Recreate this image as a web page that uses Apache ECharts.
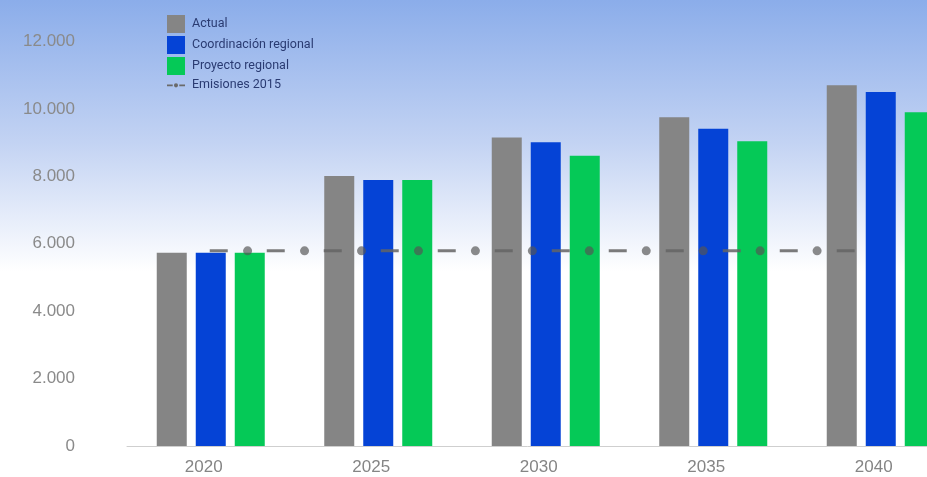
<!DOCTYPE html>
<html>
<head>
<meta charset="utf-8">
<script src="https://cdn.jsdelivr.net/npm/echarts@6/dist/echarts.min.js"></script>
<style>
html,body{margin:0;padding:0;background:#fff;}
#chart{width:927px;height:477px;}
</style>
</head>
<body>
<div id="chart"></div>
<script>
const categories = ['2020', '2025', '2030', '2035', '2040'];
const actual = [5730, 8010, 9150, 9750, 10700];
const coordinacion = [5730, 7890, 9010, 9410, 10500];
const proyecto = [5730, 7890, 8610, 9040, 9900];
const emisionesValue = 5790;
const emisionesLineYears = [2019.97, 2039.22];
const emisionesDotYears = [2021.1, 2022.8, 2024.5, 2026.2, 2027.9, 2029.6, 2031.3, 2033.0, 2034.7, 2036.4, 2038.1];
const yTicks = [0, 2000, 4000, 6000, 8000, 10000, 12000];

const chart = echarts.init(document.getElementById('chart'));
const fmt = v => v === 0 ? '0' : String(v).replace(/\B(?=(\d{3})+(?!\d))/g, '.');
const lineIcon = 'path://M0,0 M18,18 M-2,8 L5,8 L5,10 L-2,10 Z M6.5,9 A2.5,2.5 0 1 1 11.5,9 A2.5,2.5 0 1 1 6.5,9 Z M13,8 L20,8 L20,10 L13,10 Z';

chart.setOption({
  animation: false,
  backgroundColor: {
    type: 'linear', x: 0, y: 0, x2: 0, y2: 1,
    colorStops: [
      {offset: 0, color: '#8badea'},
      {offset: 0.3, color: '#c3d3f3'},
      {offset: 0.57, color: '#ffffff'},
      {offset: 1, color: '#ffffff'}
    ]
  },
  legend: {
    orient: 'vertical',
    left: 162, top: 10,
    itemWidth: 18, itemHeight: 18,
    itemGap: 3,
    textStyle: {fontFamily: 'Roboto', fontSize: 12.5, color: '#2a3b72', padding: [0, 0, 0, 2]},
    data: [
      {name: 'Actual', icon: 'rect'},
      {name: 'Coordinación regional', icon: 'rect'},
      {name: 'Proyecto regional', icon: 'rect'},
      {name: 'Emisiones 2015', icon: lineIcon, itemStyle: {color: '#6a6a6a'}}
    ]
  },
  grid: {left: 127, width: 837.5, top: 41.5, bottom: 31, containLabel: false, outerBoundsMode: 'none'},
  xAxis: [{
    type: 'category',
    data: categories,
    axisLine: {show: true, lineStyle: {color: '#cfcfcf', width: 1}},
    axisTick: {show: false},
    axisLabel: {fontFamily: 'Liberation Sans', fontSize: 17, color: '#858585', margin: 13, padding: [0, 14, 0, 0]}
  }, {
    type: 'value',
    min: 2017.5, max: 2042.5,
    show: false
  }],
  yAxis: {
    type: 'value',
    min: 0, max: 12000, interval: 2000,
    axisLine: {show: false},
    axisTick: {show: false},
    splitLine: {show: false},
    axisLabel: {fontFamily: 'Liberation Sans', fontSize: 17, color: '#8a8a8a', margin: 52, formatter: fmt}
  },
  series: [
    {name: 'Actual', type: 'bar', data: actual, barWidth: 30, barGap: '30%', itemStyle: {color: '#858585'}},
    {name: 'Coordinación regional', type: 'bar', data: coordinacion, barWidth: 30, barGap: '30%', itemStyle: {color: '#0543d6'}},
    {name: 'Proyecto regional', type: 'bar', data: proyecto, barWidth: 30, barGap: '30%', itemStyle: {color: '#05c957'}},
    {
      name: 'Emisiones 2015', type: 'line', xAxisIndex: 1, z: 5,
      data: emisionesLineYears.map(x => [x, emisionesValue]),
      showSymbol: false, symbol: 'circle', symbolSize: 8,
      itemStyle: {color: '#606060'},
      lineStyle: {color: 'rgba(100,100,100,0.85)', width: 3, type: [18, 39]}
    },
    {
      name: 'Emisiones 2015', type: 'scatter', xAxisIndex: 1, z: 6,
      data: emisionesDotYears.map(x => [x, emisionesValue]),
      symbol: 'circle', symbolSize: 9,
      itemStyle: {color: 'rgba(85,85,85,0.85)'}
    }
  ]
});
</script>
</body>
</html>
